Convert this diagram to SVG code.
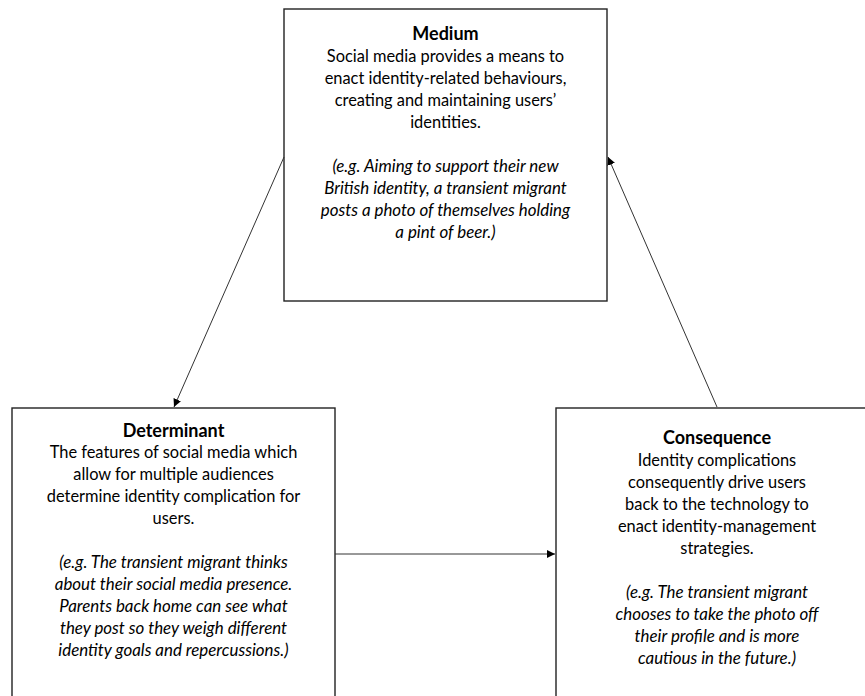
<svg xmlns="http://www.w3.org/2000/svg" width="865" height="696" viewBox="0 0 865 696">
<defs>
<style>
.box{fill:#fff;stroke:#222;stroke-width:1.4}
.t{font-family:Lato,"Liberation Sans",sans-serif;font-size:16.4px;fill:#000;text-anchor:middle}
.b{font-weight:bold;font-size:18px}
.i{font-style:italic;font-size:16.9px}
.c{stroke:#333;stroke-width:1;fill:none;marker-end:url(#ah)}
</style>
<marker id="ah" viewBox="0 0 10 10" refX="10" refY="5" markerWidth="8" markerHeight="8" markerUnits="userSpaceOnUse" orient="auto">
<path d="M0,0 L10,5 L0,10 z" fill="#000"/>
</marker>
</defs>
<rect width="865" height="696" fill="#fff"/>
<g id="medium">
<rect class="box" x="284" y="9" width="323" height="292"/>
<text class="t" x="445.5"><tspan class="b" x="445.5" y="40">Medium</tspan><tspan x="445.5" y="62">Social media provides a means to</tspan><tspan x="445.5" y="84">enact identity-related behaviours,</tspan><tspan x="445.5" y="106">creating and maintaining users’</tspan><tspan x="445.5" y="128">identities.</tspan><tspan class="i" x="445.5" y="172">(e.g. Aiming to support their new</tspan><tspan class="i" x="445.5" y="194">British identity, a transient migrant</tspan><tspan class="i" x="445.5" y="216">posts a photo of themselves holding</tspan><tspan class="i" x="445.5" y="238">a pint of beer.)</tspan></text>
</g>
<g id="determinant">
<rect class="box" x="12" y="408" width="323" height="300"/>
<text class="t"><tspan class="b" x="173.5" y="437">Determinant</tspan><tspan x="173.5" y="458">The features of social media which</tspan><tspan x="173.5" y="480">allow for multiple audiences</tspan><tspan x="173.5" y="502">determine identity complication for</tspan><tspan x="173.5" y="524">users.</tspan><tspan class="i" x="173.5" y="568">(e.g. The transient migrant thinks</tspan><tspan class="i" x="173.5" y="590">about their social media presence.</tspan><tspan class="i" x="173.5" y="612">Parents back home can see what</tspan><tspan class="i" x="173.5" y="634">they post so they weigh different</tspan><tspan class="i" x="173.5" y="656">identity goals and repercussions.)</tspan></text>
</g>
<g id="consequence">
<rect class="box" x="556" y="408" width="330" height="300"/>
<text class="t"><tspan class="b" x="717" y="444">Consequence</tspan><tspan x="717" y="466">Identity complications</tspan><tspan x="717" y="488">consequently drive users</tspan><tspan x="717" y="510">back to the technology to</tspan><tspan x="717" y="532">enact identity-management</tspan><tspan x="717" y="554">strategies.</tspan><tspan class="i" x="717" y="598">(e.g. The transient migrant</tspan><tspan class="i" x="717" y="620">chooses to take the photo off</tspan><tspan class="i" x="717" y="642">their profile and is more</tspan><tspan class="i" x="717" y="664">cautious in the future.)</tspan></text>
</g>
<g id="connectors">
<line class="c" x1="284" y1="157" x2="174" y2="407"/>
<line class="c" x1="335" y1="554" x2="555" y2="554"/>
<line class="c" x1="717" y1="407" x2="608" y2="157"/>
</g>
</svg>
